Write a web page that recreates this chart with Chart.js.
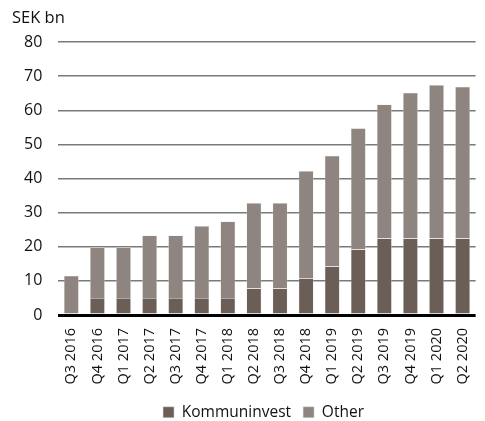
<!DOCTYPE html>
<html lang="en">
<head>
    <meta charset="UTF-8">
    <title>SEK bn</title>
    <script src="https://cdn.jsdelivr.net/npm/chart.js"></script>
    <style>
        html, body {
            margin: 0;
            padding: 0;
            background: #fff;
        }
        #chartContainer {
            width: 485px;
            height: 421px;
        }
    </style>
</head>
<body>
    <div id="chartContainer">
        <canvas id="myChart"></canvas>
    </div>
    <script>
        const quarters = ['Q3 2016', 'Q4 2016', 'Q1 2017', 'Q2 2017', 'Q3 2017', 'Q4 2017', 'Q1 2018', 'Q2 2018',
            'Q3 2018', 'Q4 2018', 'Q1 2019', 'Q2 2019', 'Q3 2019', 'Q4 2019', 'Q1 2020', 'Q2 2020'];
        const kommuninvest = [0, 5, 5, 5, 5, 5, 5, 7.8, 7.8, 10.8, 14.2, 19.2, 22.4, 22.4, 22.4, 22.4];
        const other = [11.5, 14.8, 14.8, 18.3, 18.3, 21.1, 22.4, 25, 25, 31.4, 32.5, 35.5, 39.3, 42.7, 45, 44.5];
        const yTicks = [0, 10, 20, 30, 40, 50, 60, 70, 80];
        const unitLabel = 'SEK bn';

        const fontFamily = "'Open Sans', sans-serif";
        Chart.defaults.font.family = fontFamily;
        Chart.defaults.color = '#111';

        // unit label in the top left corner
        const unitPlugin = {
            id: 'unitLabel',
            afterLayout(chart) {
                // legend sits a bit right of the canvas centre
                chart.legend.left += 17;
                chart.legend.right += 17;
            },
            afterDraw(chart) {
                const c = chart.ctx;
                c.save();
                c.font = '16.5px ' + fontFamily;
                c.fillStyle = '#111';
                c.textBaseline = 'alphabetic';
                c.fillText(unitLabel, 12, 23);
                c.restore();
            }
        };

        const ctx = document.getElementById('myChart').getContext('2d');
        const myChart = new Chart(ctx, {
            type: 'bar',
            data: {
                labels: quarters,
                datasets: [{
                    label: 'Kommuninvest',
                    data: kommuninvest,
                    backgroundColor: '#6b5e57',
                    borderColor: '#e6e2df',
                    borderWidth: 0.5,
                    barPercentage: 0.57,
                    categoryPercentage: 1
                }, {
                    label: 'Other',
                    data: other,
                    backgroundColor: '#8e8580',
                    borderColor: '#e6e2df',
                    borderWidth: 0.5,
                    barPercentage: 0.57,
                    categoryPercentage: 1
                }]
            },
            options: {
                responsive: true,
                maintainAspectRatio: false,
                animation: false,
                layout: {
                    padding: { left: 8, right: 0, top: 42, bottom: -9 }
                },
                scales: {
                    x: {
                        stacked: true,
                        grid: { display: false },
                        border: { display: false },
                        ticks: {
                            minRotation: 90,
                            maxRotation: 90,
                            autoSkip: false,
                            padding: 5,
                            font: { size: 14.5 }
                        },
                        afterFit: scale => {
                            scale.height += 3;
                        }
                    },
                    y: {
                        stacked: true,
                        min: 0,
                        max: 80,
                        afterBuildTicks: axis => {
                            axis.ticks = yTicks.map(v => ({ value: v }));
                        },
                        border: { display: false },
                        grid: {
                            drawTicks: false,
                            color: c => c.tick.value === 0 ? '#000' : '#7a7a7a',
                            lineWidth: c => c.tick.value === 0 ? 3 : 1.5
                        },
                        ticks: {
                            padding: 16,
                            font: { size: 16 }
                        }
                    }
                },
                plugins: {
                    legend: {
                        position: 'bottom',
                        labels: {
                            boxWidth: 11,
                            boxHeight: 11,
                            padding: 12,
                            font: { size: 15.5 },
                            color: '#111'
                        }
                    },
                    tooltip: { enabled: false }
                }
            },
            plugins: [unitPlugin]
        });
    </script>
</body>
</html>
